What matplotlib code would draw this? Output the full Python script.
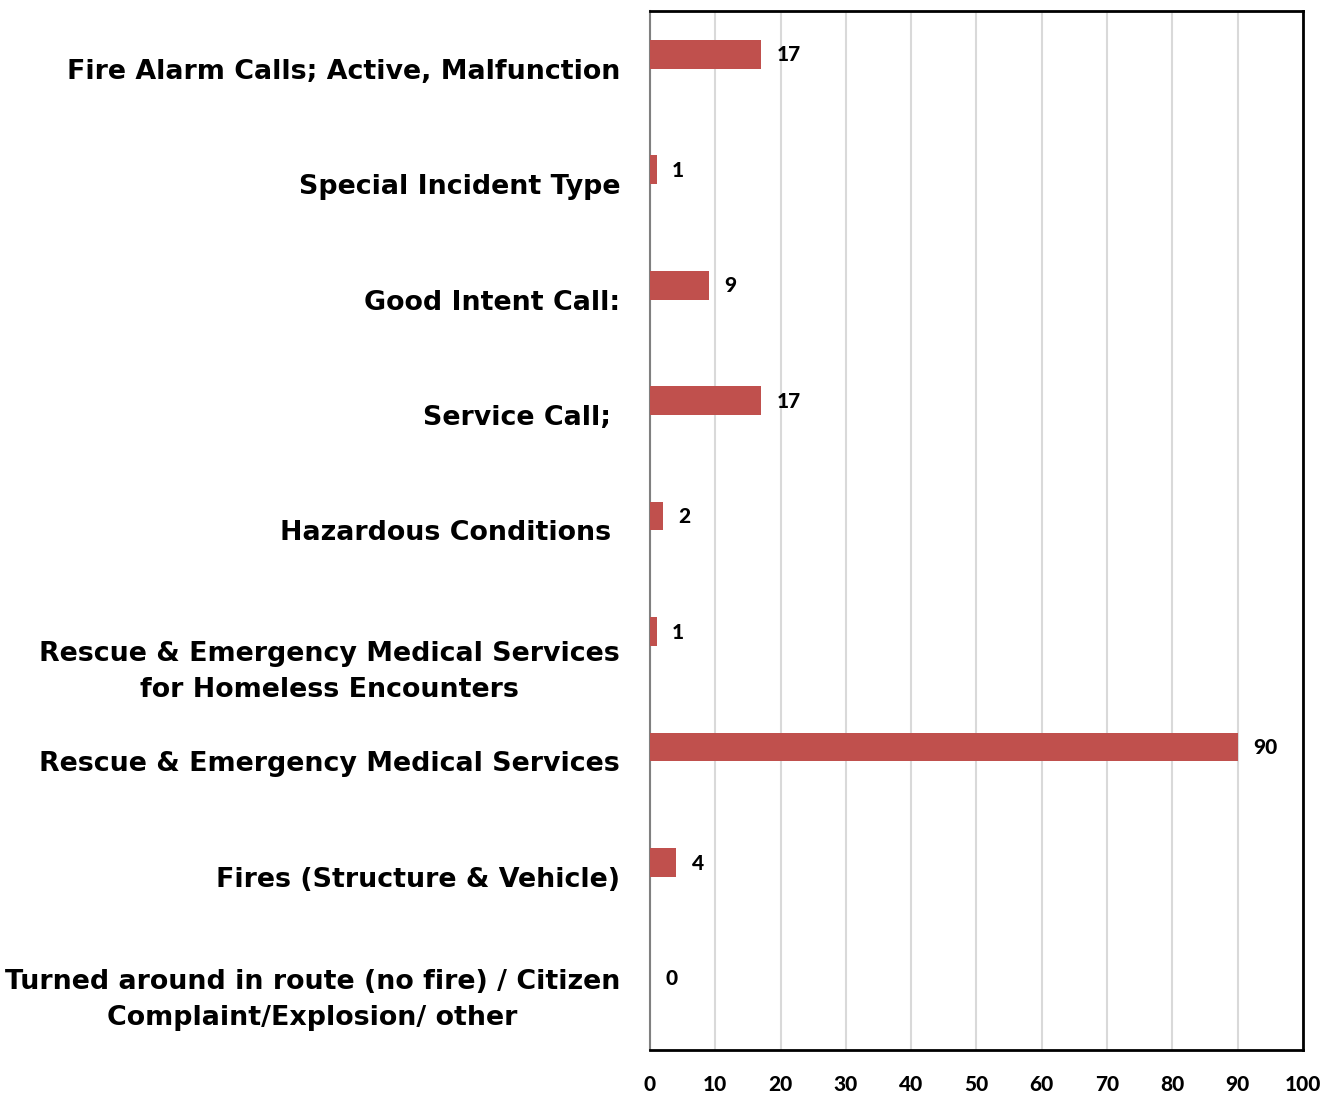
import matplotlib
matplotlib.use("Agg")
import matplotlib.pyplot as plt
import numpy as np

categories = [
    "Fire Alarm Calls; Active, Malfunction",
    "Special Incident Type",
    "Good Intent Call:",
    "Service Call; ",
    "Hazardous Conditions ",
    "\nRescue & Emergency Medical Services\nfor Homeless Encounters",
    "Rescue & Emergency Medical Services",
    "Fires (Structure & Vehicle)",
    "Turned around in route (no fire) / Citizen\nComplaint/Explosion/ other",
]
counts = [17, 1, 9, 17, 2, 1, 90, 4, 0]
xticks = [0, 10, 20, 30, 40, 50, 60, 70, 80, 90, 100]

bar_color = "#C0504D"

fig = plt.figure(figsize=(13.33, 10.93), dpi=100)
ax = fig.add_axes([0.4876, 0.0393, 0.4899, 0.9507])

y = np.arange(len(categories))
ax.barh(y - 0.125, counts, height=0.25, color=bar_color, zorder=3)

for yi, v in zip(y, counts):
    ax.text(v + 2.4, yi - 0.12, str(v), va="center", ha="left",
            fontsize=15, fontweight="black", family="Lato", zorder=4)

ax.set_ylim(len(categories) - 0.5, -0.5)
ax.set_xlim(0, 100)
ax.set_yticks(y)
ax.set_yticklabels(categories, fontsize=19.4, fontweight="bold",
                   family="DejaVu Sans", multialignment="center",
                   linespacing=1.5)
ax.set_xticks(xticks)
ax.set_xticklabels([str(t) for t in xticks], fontsize=15, fontweight="black",
                   family="Lato")
ax.tick_params(axis="y", length=0, pad=21.5)
ax.tick_params(axis="x", length=0, pad=18)

ax.xaxis.grid(True, color="#D9D9D9", linewidth=1.5, zorder=0)
ax.set_axisbelow(True)

for s in ["top", "right", "bottom"]:
    ax.spines[s].set_color("black")
    ax.spines[s].set_linewidth(2)
ax.spines["left"].set_color("#808080")
ax.spines["left"].set_linewidth(1.5)

fig.savefig("out.png", dpi=100)
